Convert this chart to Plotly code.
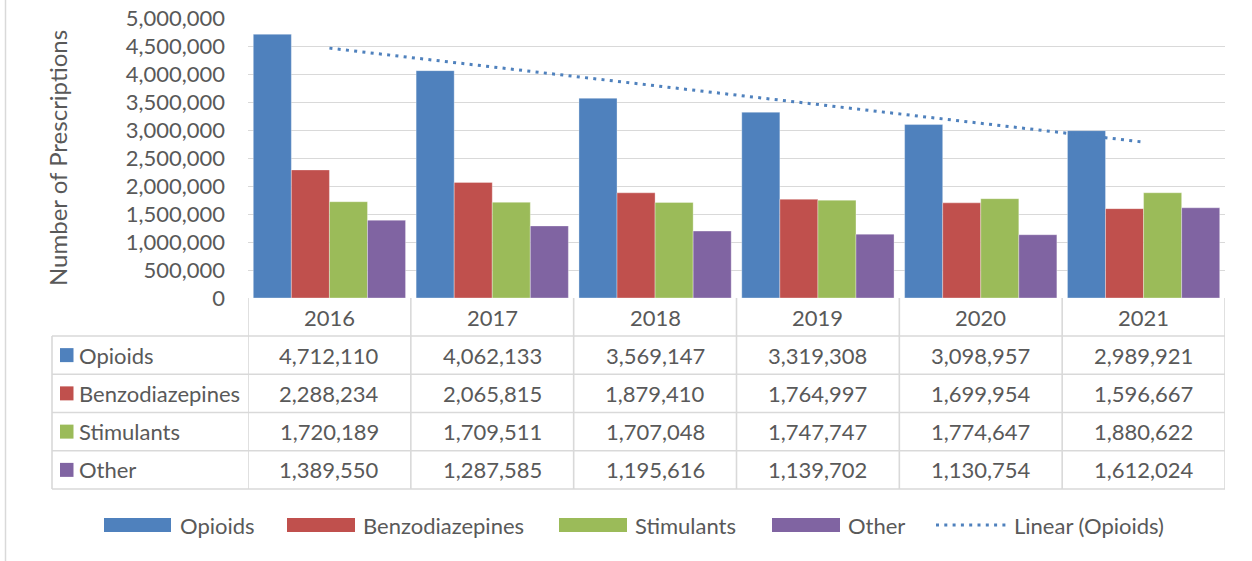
import numpy as np
import plotly.graph_objects as go

# ---------------- data ----------------
years = [2016, 2017, 2018, 2019, 2020, 2021]
series_names = ["Opioids", "Benzodiazepines", "Stimulants", "Other"]
opioids = [4712110, 4062133, 3569147, 3319308, 3098957, 2989921]
benzodiazepines = [2288234, 2065815, 1879410, 1764997, 1699954, 1596667]
stimulants = [1720189, 1709511, 1707048, 1747747, 1774647, 1880622]
other = [1389550, 1287585, 1195616, 1139702, 1130754, 1612024]
y_ticks = list(range(0, 5000001, 500000))
trend_label = "Linear (Opioids)"
y_title = "Number of Prescriptions"

values = [opioids, benzodiazepines, stimulants, other]
colors = ["#4F81BD", "#C0504D", "#9BBB59", "#8064A2"]
trend_color = "#4F81BD"
text_color = "#595959"
grid_color = "#D9D9D9"
FONT = "Lato"
FS = 22
DOT = "3px,5.3px"

# ---------------- geometry (page pixels; body margin removed via post_script) ----------------
W, H = 1252, 561
PLOT_L, PLOT_R, PLOT_T, PLOT_B = 248, 1225, 18, 298   # plot area in page pixels
L, T = PLOT_L, PLOT_T
R = W - PLOT_R
B = H - PLOT_B
PW = PLOT_R - PLOT_L
PH = PLOT_B - PLOT_T
Y_MAX = y_ticks[-1] * 1.0006   # tiny headroom so the top gridline/label is kept


def xp(px):
    return (px - PLOT_L) / PW


def yp(py):
    return (PLOT_B - py) / PH


fig = go.Figure()

for name, vals, col in zip(series_names, values, colors):
    fig.add_trace(go.Bar(
        x=years, y=vals, name=name, showlegend=False,
        marker=dict(color=col, line=dict(width=0.6, color="rgba(255,255,255,0.55)")),
    ))

# linear trendline of opioids (least squares, like Excel)
slope, intercept = np.polyfit(years, opioids, 1)
trend_x = [years[0], years[-1]]
trend_y = [slope * x + intercept for x in trend_x]
fig.add_trace(go.Scatter(
    x=trend_x, y=trend_y, mode="lines", showlegend=False,
    line=dict(color=trend_color, width=3, dash=DOT),
))

shapes = []
annotations = []

# ---------------- data table ----------------
header_top, header_bot = 298, 336
row_h = (489 - header_bot) / 4
row_edges = [header_bot + i * row_h for i in range(5)]
table_left = 52
line_style = dict(color=grid_color, width=1.6)

for ye in row_edges:
    shapes.append(dict(type="line", xref="paper", yref="paper",
                       x0=xp(table_left), x1=1, y0=yp(ye), y1=yp(ye), line=line_style))
for yr in years + [years[-1] + 1]:
    shapes.append(dict(type="line", xref="x", yref="paper",
                       x0=yr - 0.5, x1=yr - 0.5, y0=yp(header_top), y1=yp(row_edges[-1]),
                       line=line_style))
shapes.append(dict(type="line", xref="paper", yref="paper",
                   x0=xp(table_left), x1=xp(table_left), y0=yp(row_edges[0]), y1=yp(row_edges[-1]),
                   line=line_style))

for yr in years:
    annotations.append(dict(xref="x", yref="paper", x=yr, y=yp((header_top + header_bot) / 2),
                            text=str(yr), showarrow=False, xanchor="center", yanchor="middle",
                            font=dict(family=FONT, size=FS, color=text_color)))

for i, (name, vals, col) in enumerate(zip(series_names, values, colors)):
    cy = (row_edges[i] + row_edges[i + 1]) / 2
    shapes.append(dict(type="rect", xref="paper", yref="paper",
                       x0=xp(60), x1=xp(73.5), y0=yp(cy - 7), y1=yp(cy + 7),
                       fillcolor=col, line=dict(width=0)))
    annotations.append(dict(xref="paper", yref="paper", x=xp(77), y=yp(cy), text=name,
                            showarrow=False, xanchor="left", yanchor="middle",
                            font=dict(family=FONT, size=FS, color=text_color)))
    for yr, v in zip(years, vals):
        annotations.append(dict(xref="x", yref="paper", x=yr, y=yp(cy), text=f"{v:,}",
                                showarrow=False, xanchor="center", yanchor="middle",
                                font=dict(family=FONT, size=FS, color=text_color)))

# ---------------- legend (Excel style) ----------------
leg_y = 525
legend_items = [  # swatch start, swatch end, text start (page pixels)
    (104, 171, 178),
    (287, 355, 361),
    (559, 627, 633),
    (772, 840, 846),
]
for (s0, s1, t0), name, col in zip(legend_items, series_names, colors):
    shapes.append(dict(type="rect", xref="paper", yref="paper",
                       x0=xp(s0), x1=xp(s1), y0=yp(leg_y - 7), y1=yp(leg_y + 7),
                       fillcolor=col, line=dict(width=0)))
    annotations.append(dict(xref="paper", yref="paper", x=xp(t0), y=yp(leg_y), text=name,
                            showarrow=False, xanchor="left", yanchor="middle",
                            font=dict(family=FONT, size=FS, color=text_color)))
shapes.append(dict(type="line", xref="paper", yref="paper",
                   x0=xp(936), x1=xp(1008), y0=yp(leg_y), y1=yp(leg_y),
                   line=dict(color=trend_color, width=3, dash=DOT)))
annotations.append(dict(xref="paper", yref="paper", x=xp(1012), y=yp(leg_y), text=trend_label,
                        showarrow=False, xanchor="left", yanchor="middle",
                        font=dict(family=FONT, size=FS, color=text_color)))

# y-axis title
annotations.append(dict(xref="paper", yref="paper", x=xp(57), y=yp(158), text=y_title,
                        textangle=-90, showarrow=False, xanchor="center", yanchor="middle",
                        font=dict(family=FONT, size=24, color=text_color)))

# left chart border
shapes.append(dict(type="line", xref="paper", yref="paper",
                   x0=xp(5.5), x1=xp(5.5), y0=yp(0), y1=yp(H),
                   line=dict(color=grid_color, width=1.5)))

fig.update_layout(
    width=W, height=H,
    margin=dict(l=L, r=R, t=T, b=B, pad=0, autoexpand=False),
    paper_bgcolor="white", plot_bgcolor="white",
    barmode="group", bargap=0.065, bargroupgap=0,
    showlegend=False,
    font=dict(family=FONT, size=FS, color=text_color),
    xaxis=dict(range=[years[0] - 0.5, years[-1] + 0.5], showticklabels=False, automargin=False,
               showgrid=False, zeroline=False, showline=False, ticks=""),
    yaxis=dict(range=[0, Y_MAX], tickvals=y_ticks, ticktext=[f"{v:,}" for v in y_ticks],
               automargin=False, ticklabeloverflow="allow",
               showgrid=True, gridcolor=grid_color, gridwidth=1.4, zeroline=False,
               showline=False, ticks="", ticklabelstandoff=22,
               tickfont=dict(family=FONT, size=FS, color=text_color)),
    shapes=shapes,
    annotations=annotations,
)

fig.write_html(
    "out.html",
    config={"displayModeBar": False},
    post_script="document.body.style.margin='0';document.body.style.overflow='hidden';",
)
